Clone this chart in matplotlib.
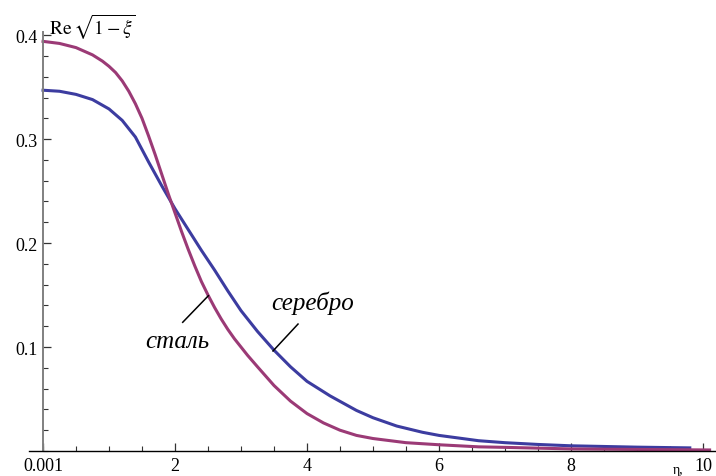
import numpy as np
import matplotlib.pyplot as plt
from matplotlib.ticker import MultipleLocator, FixedLocator

plt.rcParams['font.family'] = ['Liberation Serif', 'DejaVu Serif']
plt.rcParams['mathtext.fontset'] = 'stix'

# сталь (steel)
x_steel = [0.001, 0.25, 0.5, 0.75, 0.9, 1.0, 1.1, 1.2, 1.3, 1.4, 1.5, 1.6, 1.7,
           1.8, 1.9, 2.0, 2.1, 2.2, 2.3, 2.4, 2.5, 2.6, 2.7, 2.8, 2.9, 3.0, 3.1,
           3.25, 3.5, 3.75, 4.0, 4.25, 4.5, 4.75, 5.0, 5.5, 6.0, 6.6, 7.0, 8.0,
           9.0, 10.1]
y_steel = [0.394, 0.392, 0.388, 0.381, 0.375, 0.370, 0.364, 0.356, 0.346, 0.334,
           0.320, 0.303, 0.285, 0.266, 0.247, 0.229, 0.211, 0.194, 0.178, 0.163,
           0.150, 0.138, 0.127, 0.117, 0.108, 0.100, 0.092, 0.081, 0.063, 0.048,
           0.036, 0.027, 0.020, 0.015, 0.012, 0.008, 0.006, 0.004, 0.0035, 0.002,
           0.0015, 0.001]

# серебро (silver)
x_silver = [0.001, 0.25, 0.5, 0.75, 1.0, 1.2, 1.4, 1.6, 1.8, 2.0, 2.2, 2.4, 2.6,
            2.8, 3.0, 3.25, 3.5, 3.75, 4.0, 4.35, 4.75, 5.0, 5.36, 5.75, 6.0,
            6.6, 7.0, 7.5, 8.0, 9.0, 9.8]
y_silver = [0.347, 0.346, 0.343, 0.338, 0.329, 0.318, 0.302, 0.278, 0.255, 0.233,
            0.213, 0.193, 0.174, 0.154, 0.135, 0.115, 0.097, 0.081, 0.067, 0.053,
            0.039, 0.032, 0.024, 0.018, 0.015, 0.0099, 0.008, 0.0063, 0.005,
            0.0037, 0.003]

x_ticks = [0.001, 2, 4, 6, 8, 10]
x_ticklabels = ['0.001', '2', '4', '6', '8', '10']
y_ticks = [0.1, 0.2, 0.3, 0.4]

fig = plt.figure(figsize=(7.16, 4.77), dpi=100)
ax = fig.add_axes([29/716, 25/477, 687/716, 419/477])

ax.plot(x_silver, y_silver, color='#3c3ca0', lw=2.2, solid_joinstyle='round')
ax.plot(x_steel, y_steel, color='#9b3a76', lw=2.2, solid_joinstyle='round')

ax.set_xlim(-0.212, 10.197)
ax.set_ylim(0, 0.403)

for s in ['top', 'right']:
    ax.spines[s].set_visible(False)
ax.spines['left'].set_position(('data', 0))
ax.spines['left'].set_color('#808080')
ax.spines['left'].set_linewidth(1.4)
ax.spines['bottom'].set_position(('data', 0))
ax.spines['bottom'].set_linewidth(1.0)

ax.xaxis.set_major_locator(FixedLocator(x_ticks))
ax.set_xticklabels(x_ticklabels)
ax.xaxis.set_minor_locator(MultipleLocator(0.5))
ax.yaxis.set_major_locator(FixedLocator(y_ticks))
ax.yaxis.set_minor_locator(MultipleLocator(0.02))

ax.tick_params(which='both', direction='in', labelsize=13, color='#333333')
ax.tick_params(which='major', length=6, width=0.9)
ax.tick_params(which='minor', length=3.5, width=0.8)
ax.tick_params(axis='x', pad=4)
ax.tick_params(axis='y', pad=4)

# labels on curves
ax.plot([2.117, 2.505], [0.1238, 0.1493], color='black', lw=1.1)
ax.text(2.03, 0.106, 'сталь', fontsize=18, style='italic', ha='center', va='center')
ax.plot([3.485, 3.864], [0.0962, 0.1221], color='black', lw=1.1)
ax.text(4.09, 0.143, 'серебро', fontsize=18, style='italic', ha='center', va='center')

# axis labels
fig.text(49/716, 1 - 35/477, r'$\mathrm{Re}\,\sqrt{1-\xi}$', fontsize=14,
         ha='left', va='baseline')
fig.text(678/716, 1 - 474/477, 'η,', fontsize=10, ha='center', va='baseline')

fig.savefig('out.png', dpi=100)
